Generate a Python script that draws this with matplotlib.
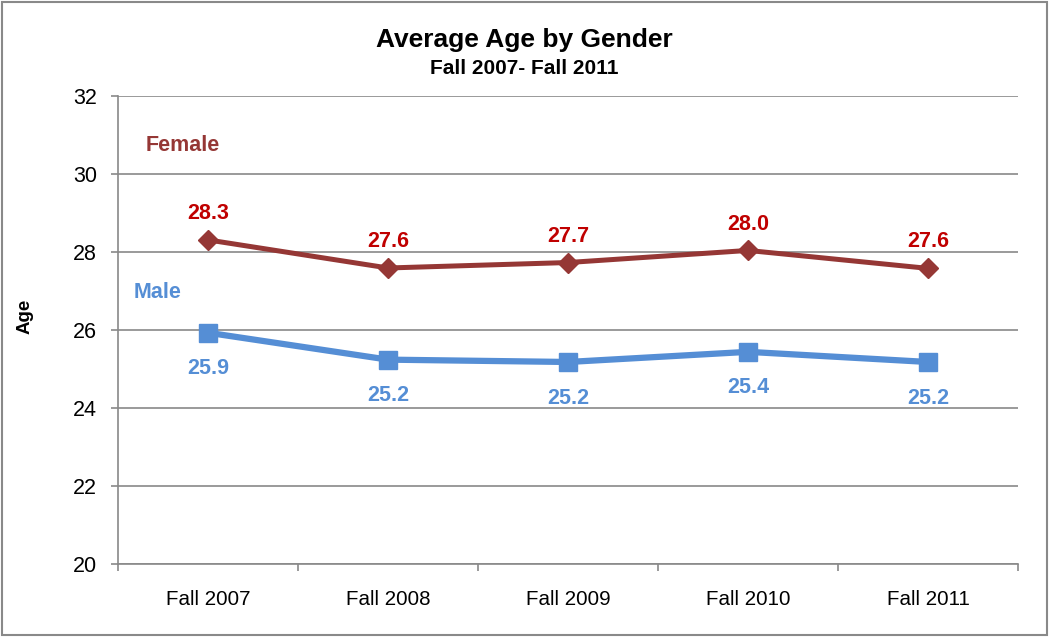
import matplotlib.pyplot as plt
from matplotlib.patches import Rectangle
from matplotlib.ticker import FixedLocator, NullFormatter

plt.rcParams['font.family'] = ['Liberation Sans', 'DejaVu Sans']

# данные с графика
terms = ['Fall 2007', 'Fall 2008', 'Fall 2009', 'Fall 2010', 'Fall 2011']
female_age = [28.31, 27.59, 27.73, 28.04, 27.58]
male_age = [25.93, 25.24, 25.18, 25.44, 25.18]

female_line = '#953735'
female_text = '#C00000'
male_color = '#558ED5'
grid_gray = '#898989'

fig = plt.figure(figsize=(10.49, 6.37), dpi=100)
ax = fig.add_axes([118 / 1049, 1 - 564 / 637, 900 / 1049, 468 / 637])

x = list(range(len(terms)))
ax.plot(x, female_age, color=female_line, lw=3.6, marker='D', ms=10,
        markeredgecolor=female_line, zorder=3)
ax.plot(x, male_age, color=male_color, lw=4.5, marker='s', ms=13,
        markeredgecolor=male_color, zorder=3)

for xi, v in zip(x, female_age):
    ax.annotate(f'{v:.1f}', (xi, v), xytext=(0, 19), textcoords='offset points',
                ha='center', va='center', fontsize=15.5, fontweight='bold',
                color=female_text)
for xi, v in zip(x, male_age):
    ax.annotate(f'{v:.1f}', (xi, v), xytext=(0, -26), textcoords='offset points',
                ha='center', va='center', fontsize=15.5, fontweight='bold',
                color=male_color)

ax.text(-0.14, 30.74, 'Female', ha='center', va='center', fontsize=15.5,
        fontweight='bold', color=female_line)
ax.text(-0.28, 26.97, 'Male', ha='center', va='center', fontsize=15.5,
        fontweight='bold', color=male_color)

ax.set_xlim(-0.5, len(terms) - 0.5)
ax.set_ylim(20, 32)
ax.set_yticks(range(20, 33, 2))
ax.yaxis.grid(True, color=grid_gray, lw=1.2)
ax.set_axisbelow(True)

# подписи по центру категорий, засечки на границах
ax.set_xticks(x)
ax.set_xticklabels(terms, fontsize=14.8)
ax.xaxis.set_minor_locator(FixedLocator([i - 0.5 for i in range(len(terms) + 1)]))
ax.xaxis.set_minor_formatter(NullFormatter())
ax.tick_params(axis='x', which='major', length=0, pad=19)
ax.tick_params(axis='x', which='minor', length=5, color=grid_gray, width=1.2)
ax.tick_params(axis='y', length=5, color=grid_gray, width=1.2, labelsize=15.5, pad=10)

for side in ['top', 'right']:
    ax.spines[side].set_visible(False)
for side in ['left', 'bottom']:
    ax.spines[side].set_color(grid_gray)
    ax.spines[side].set_linewidth(1.2)

ax.set_ylabel('Age', fontsize=13.5, fontweight='bold')
ax.yaxis.set_label_coords(-0.094, 0.53)

fig.text(0.5, 1 - 40 / 637, 'Average Age by Gender', ha='center', va='center',
         fontsize=19, fontweight='bold')
fig.text(0.5, 1 - 68 / 637, 'Fall 2007- Fall 2011', ha='center', va='center',
         fontsize=15, fontweight='bold')

fig.patches.append(Rectangle((0.002, 0.003), 0.996, 0.994, transform=fig.transFigure,
                             fill=False, edgecolor=grid_gray, lw=1.5))

fig.savefig('out.png', dpi=100)
